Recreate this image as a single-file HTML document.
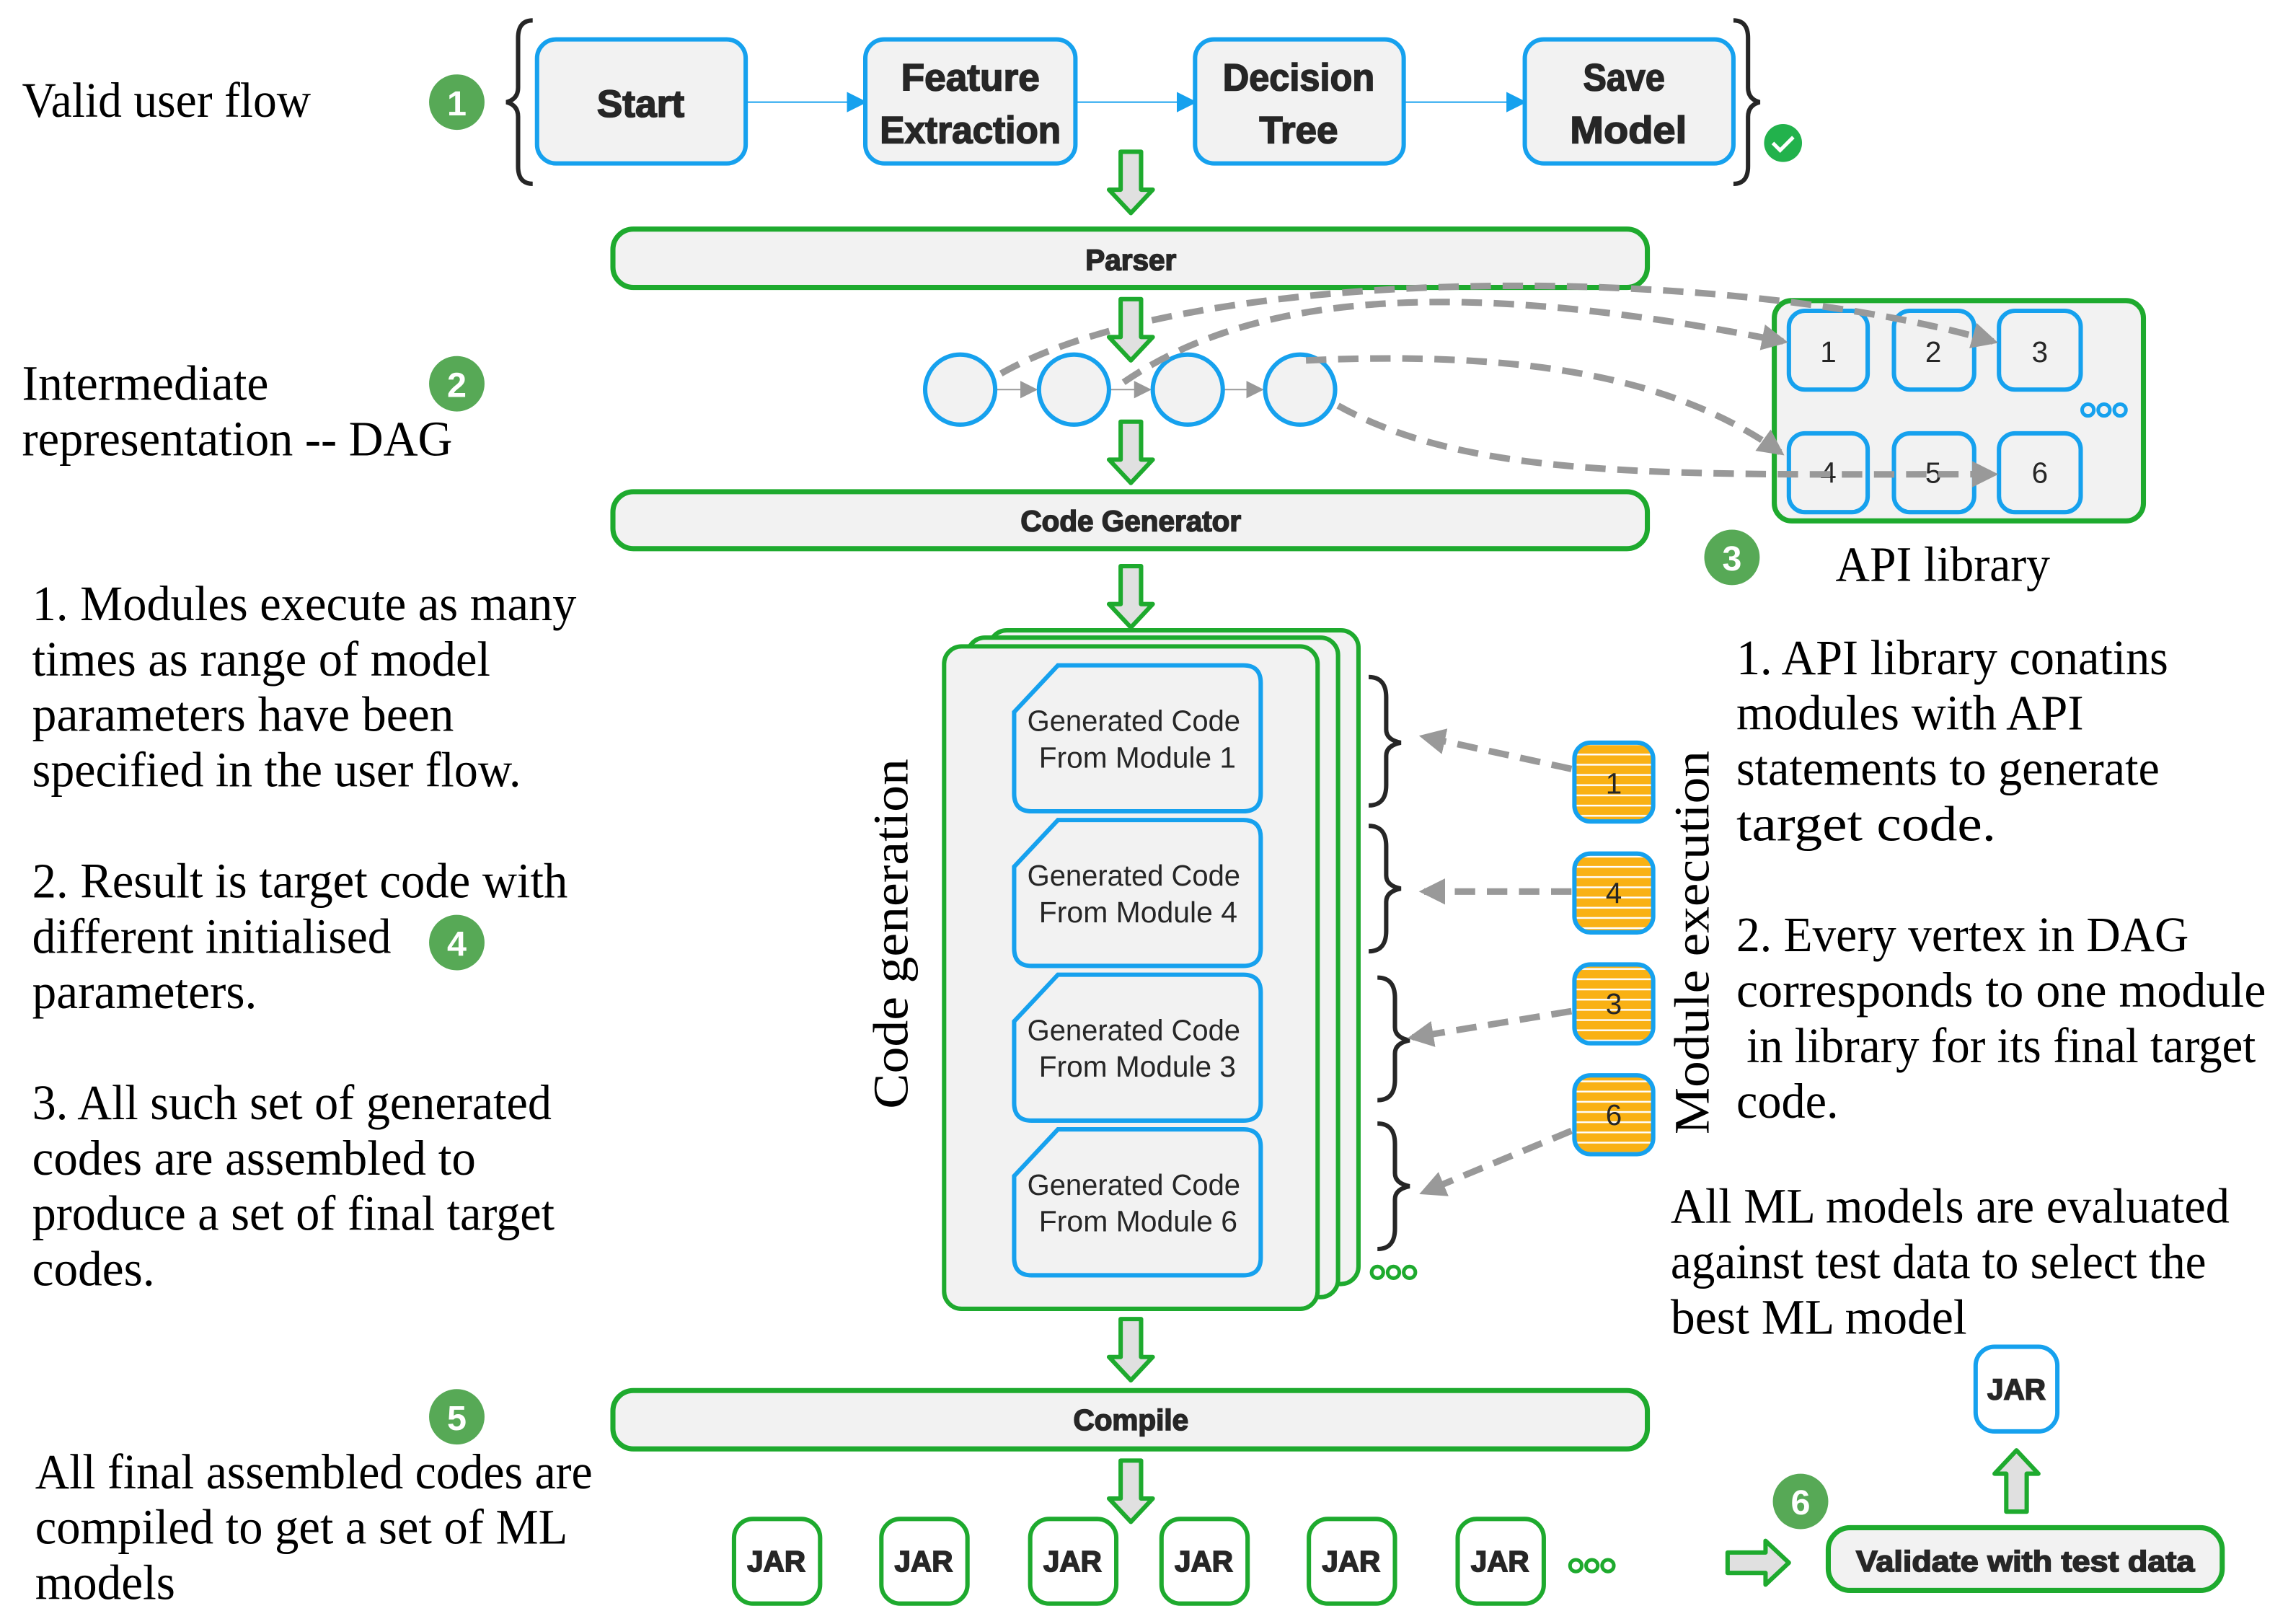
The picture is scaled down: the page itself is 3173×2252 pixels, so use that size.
<!DOCTYPE html>
<html><head><meta charset="utf-8"><style>
html,body{margin:0;padding:0;background:#fff;}
svg{display:block}
.s{font-family:"Liberation Serif",serif;fill:#000;font-size:34px}
.b{font-family:"Liberation Sans",sans-serif;font-weight:bold;fill:#262626;stroke:#262626;stroke-width:0.8}
.n{font-family:"Liberation Sans",sans-serif;fill:#262626}
.box{fill:#f2f2f2;stroke:#16a1ee;stroke-width:3}
.gbar{fill:#f2f2f2;stroke:#1eaa2e;stroke-width:3.5}
.arr{fill:#e0e0e0;stroke:#1eaa2e;stroke-width:3;stroke-linejoin:round}
.dash{fill:none;stroke:#999;stroke-width:4.5;stroke-dasharray:14 8}
.br{fill:none;stroke:#262626;stroke-width:3}
.badge{fill:#57a956}
.bt{font-family:"Liberation Sans",sans-serif;font-weight:bold;fill:#fff;font-size:24px}
</style></head><body>
<svg width="3173" height="2252" viewBox="0 0 1568 1113" xmlns="http://www.w3.org/2000/svg">
<defs>
<marker id="ga" viewBox="0 0 10 10" refX="8" refY="5" markerWidth="4" markerHeight="4" orient="auto" markerUnits="strokeWidth"><path d="M0,0 L10,5 L0,10 Z" fill="#999"/></marker>
<marker id="ba" viewBox="0 0 10 10" refX="9" refY="5" markerWidth="14" markerHeight="14" orient="auto" markerUnits="userSpaceOnUse"><path d="M0,0 L10,5 L0,10 Z" fill="#16a1ee"/></marker>
<marker id="sa" viewBox="0 0 10 10" refX="9" refY="5" markerWidth="12" markerHeight="12" orient="auto" markerUnits="userSpaceOnUse"><path d="M0,0 L10,5 L0,10 Z" fill="#999"/></marker>
<pattern id="stripe" width="10" height="7" patternUnits="userSpaceOnUse"><rect width="10" height="7" fill="#f9b114"/><rect y="5.5" width="10" height="1.2" fill="#fff"/></pattern>
</defs>

<text class="s" x="15" y="80" textLength="198" lengthAdjust="spacingAndGlyphs">Valid user flow</text>
<circle class="badge" cx="313" cy="70" r="19"/><text class="bt" x="313" y="79" text-anchor="middle">1</text>
<path class="br" d="M365,14 q-10,0 -10,12 v34 q0,8 -8,10 q8,2 8,10 v34 q0,12 10,12"/>
<path class="br" d="M1188,14 q10,0 10,12 v34 q0,8 8,10 q-8,2 -8,10 v34 q0,12 -10,12"/>
<rect class="box" x="368" y="27" width="143" height="85" rx="13"/>
<rect class="box" x="593" y="27" width="144" height="85" rx="13"/>
<rect class="box" x="819" y="27" width="143" height="85" rx="13"/>
<rect class="box" x="1045" y="27" width="143" height="85" rx="13"/>
<text class="b" x="439" y="80" font-size="26" text-anchor="middle" textLength="60" lengthAdjust="spacingAndGlyphs">Start</text>
<text class="b" x="665" y="62" font-size="26" text-anchor="middle" textLength="95" lengthAdjust="spacingAndGlyphs">Feature</text>
<text class="b" x="665" y="98" font-size="26" text-anchor="middle" textLength="124" lengthAdjust="spacingAndGlyphs">Extraction</text>
<text class="b" x="890" y="62" font-size="26" text-anchor="middle" textLength="104" lengthAdjust="spacingAndGlyphs">Decision</text>
<text class="b" x="890" y="98" font-size="26" text-anchor="middle" textLength="54" lengthAdjust="spacingAndGlyphs">Tree</text>
<text class="b" x="1113" y="62" font-size="26" text-anchor="middle" textLength="56" lengthAdjust="spacingAndGlyphs">Save</text>
<text class="b" x="1116" y="98" font-size="26" text-anchor="middle" textLength="80" lengthAdjust="spacingAndGlyphs">Model</text>
<line x1="511" y1="70" x2="593" y2="70" stroke="#16a1ee" stroke-width="1" marker-end="url(#ba)"/>
<line x1="737" y1="70" x2="819" y2="70" stroke="#16a1ee" stroke-width="1" marker-end="url(#ba)"/>
<line x1="962" y1="70" x2="1045" y2="70" stroke="#16a1ee" stroke-width="1" marker-end="url(#ba)"/>
<circle cx="1222" cy="98" r="13" fill="#22b24c"/>
<path d="M1215,98 l5,5 l9,-9" fill="none" stroke="#fff" stroke-width="2.5"/>

<path class="arr" d="M768,104 h14 v26 h8 l-15,16 l-15,-16 h8 z"/>
<rect class="gbar" x="420" y="157" width="709" height="40" rx="14"/>
<text class="b" x="775" y="185" font-size="20" text-anchor="middle">Parser</text>

<text class="s" x="15" y="274" textLength="169" lengthAdjust="spacingAndGlyphs">Intermediate</text>
<text class="s" x="15" y="312" textLength="295" lengthAdjust="spacingAndGlyphs">representation -- DAG</text>
<circle class="badge" cx="313" cy="263" r="19"/><text class="bt" x="313" y="272" text-anchor="middle">2</text>

<line x1="682" y1="267" x2="710" y2="267" stroke="#999" stroke-width="1" marker-end="url(#sa)"/>
<line x1="760" y1="267" x2="788" y2="267" stroke="#999" stroke-width="1" marker-end="url(#sa)"/>
<line x1="838" y1="267" x2="865" y2="267" stroke="#999" stroke-width="1" marker-end="url(#sa)"/>
<circle class="box" cx="658" cy="267" r="24"/>
<circle class="box" cx="736" cy="267" r="24"/>
<circle class="box" cx="814" cy="267" r="24"/>
<circle class="box" cx="891" cy="267" r="24"/>

<rect class="gbar" x="1216" y="206" width="253" height="151" rx="12"/>
<rect class="box" x="1226" y="213" width="54" height="54" rx="11"/>
<rect class="box" x="1298" y="213" width="55" height="54" rx="11"/>
<rect class="box" x="1370" y="213" width="56" height="54" rx="11"/>
<rect class="box" x="1226" y="297" width="54" height="54" rx="11"/>
<rect class="box" x="1298" y="297" width="55" height="54" rx="11"/>
<rect class="box" x="1370" y="297" width="56" height="54" rx="11"/>
<g class="n" font-size="20" text-anchor="middle">
<text x="1253" y="248">1</text><text x="1325" y="248">2</text><text x="1398" y="248">3</text>
<text x="1253" y="331">4</text><text x="1325" y="331">5</text><text x="1398" y="331">6</text>
</g>
<g fill="none" stroke="#16a1ee" stroke-width="2.5"><circle cx="1431" cy="281" r="4"/><circle cx="1442" cy="281" r="4"/><circle cx="1453" cy="281" r="4"/></g>

<path class="dash" d="M686,256 C820,180 1180,180 1366,234" marker-end="url(#ga)"/>
<path class="dash" d="M770,262 C860,200 1000,190 1222,234" marker-end="url(#ga)"/>
<path class="dash" d="M895,247 C1050,240 1150,260 1220,310" marker-end="url(#ga)"/>
<path class="dash" d="M917,278 C1010,330 1150,325 1366,325" marker-end="url(#ga)"/>

<path class="arr" d="M768,205 h14 v26 h8 l-15,16 l-15,-16 h8 z"/>
<path class="arr" d="M768,289 h14 v26 h8 l-15,16 l-15,-16 h8 z"/>
<rect class="gbar" x="420" y="337" width="709" height="39" rx="14"/>
<text class="b" x="775" y="364" font-size="20" text-anchor="middle">Code Generator</text>

<circle class="badge" cx="1187" cy="382" r="19"/><text class="bt" x="1187" y="391" text-anchor="middle">3</text>
<text class="s" x="1258" y="398" textLength="147" lengthAdjust="spacingAndGlyphs">API library</text>

<path class="arr" d="M768,388 h14 v26 h8 l-15,16 l-15,-16 h8 z"/>

<rect x="678" y="432" width="253" height="448" rx="12" fill="#f2f2f2" stroke="#1eaa2e" stroke-width="3"/>
<rect x="663" y="437" width="254" height="452" rx="12" fill="#f2f2f2" stroke="#1eaa2e" stroke-width="3"/>
<rect x="647" y="443" width="256" height="454" rx="12" fill="#f2f2f2" stroke="#1eaa2e" stroke-width="3"/>

<g class="box">
<path d="M695,488 L725,456 H852 Q864,456 864,468 V544 Q864,556 852,556 H707 Q695,556 695,544 Z"/>
<path d="M695,594 L725,562 H852 Q864,562 864,574 V650 Q864,662 852,662 H707 Q695,662 695,650 Z"/>
<path d="M695,700 L725,668 H852 Q864,668 864,680 V756 Q864,768 852,768 H707 Q695,768 695,756 Z"/>
<path d="M695,806 L725,774 H852 Q864,774 864,786 V862 Q864,874 852,874 H707 Q695,874 695,862 Z"/>
</g>
<g class="n" font-size="20">
<text x="704" y="501" textLength="146" lengthAdjust="spacingAndGlyphs">Generated Code</text>
<text x="712" y="526" textLength="135" lengthAdjust="spacingAndGlyphs">From Module 1</text>
<text x="704" y="607" textLength="146" lengthAdjust="spacingAndGlyphs">Generated Code</text>
<text x="712" y="632" textLength="136" lengthAdjust="spacingAndGlyphs">From Module 4</text>
<text x="704" y="713" textLength="146" lengthAdjust="spacingAndGlyphs">Generated Code</text>
<text x="712" y="738" textLength="135" lengthAdjust="spacingAndGlyphs">From Module 3</text>
<text x="704" y="819" textLength="146" lengthAdjust="spacingAndGlyphs">Generated Code</text>
<text x="712" y="844" textLength="136" lengthAdjust="spacingAndGlyphs">From Module 6</text>
</g>
<g fill="none" stroke="#1eaa2e" stroke-width="2.5"><circle cx="944" cy="872" r="4"/><circle cx="955" cy="872" r="4"/><circle cx="966" cy="872" r="4"/></g>

<text class="s" font-size="38" transform="translate(622,640) rotate(-90)" text-anchor="middle" textLength="240" lengthAdjust="spacingAndGlyphs">Code generation</text>
<text class="s" font-size="38" transform="translate(1171,646) rotate(-90)" text-anchor="middle" textLength="263" lengthAdjust="spacingAndGlyphs">Module execution</text>

<path class="br" d="M938,464 q12,0 12,14 v22 q0,7 10,9 q-10,2 -10,9 v20 q0,14 -12,14"/>
<path class="br" d="M938,566 q12,0 12,14 v20 q0,7 10,9 q-10,2 -10,9 v20 q0,14 -12,14"/>
<path class="br" d="M944,670 q12,0 12,14 v20 q0,7 10,9 q-10,2 -10,9 v18 q0,14 -12,14"/>
<path class="br" d="M944,770 q12,0 12,14 v20 q0,7 10,9 q-10,2 -10,9 v20 q0,14 -12,14"/>

<g stroke="#16a1ee" stroke-width="3" fill="url(#stripe)">
<rect x="1079" y="509" width="54" height="54" rx="11"/>
<rect x="1079" y="585" width="54" height="54" rx="11"/>
<rect x="1079" y="661" width="54" height="54" rx="11"/>
<rect x="1079" y="737" width="54" height="54" rx="11"/>
</g>
<g class="n" font-size="20" text-anchor="middle">
<text x="1106" y="544">1</text><text x="1106" y="619">4</text><text x="1106" y="695">3</text><text x="1106" y="771">6</text>
</g>
<path class="dash" d="M1077,527 L976,505" marker-end="url(#ga)"/>
<path class="dash" d="M1077,611 L976,611" marker-end="url(#ga)"/>
<path class="dash" d="M1077,693 L968,711" marker-end="url(#ga)"/>
<path class="dash" d="M1077,775 L976,817" marker-end="url(#ga)"/>

<text class="s" x="22" y="425" textLength="373" lengthAdjust="spacingAndGlyphs">1. Modules execute as many</text>
<text class="s" x="22" y="463" textLength="314" lengthAdjust="spacingAndGlyphs">times as range of model</text>
<text class="s" x="22" y="501" textLength="289" lengthAdjust="spacingAndGlyphs">parameters have been</text>
<text class="s" x="22" y="539" textLength="335" lengthAdjust="spacingAndGlyphs">specified in the user flow.</text>
<text class="s" x="22" y="615" textLength="367" lengthAdjust="spacingAndGlyphs">2. Result is  target code with</text>
<text class="s" x="22" y="653" textLength="246" lengthAdjust="spacingAndGlyphs">different initialised</text>
<text class="s" x="22" y="691" textLength="154" lengthAdjust="spacingAndGlyphs">parameters.</text>
<circle class="badge" cx="313" cy="646" r="19"/><text class="bt" x="313" y="655" text-anchor="middle">4</text>
<text class="s" x="22" y="767" textLength="356" lengthAdjust="spacingAndGlyphs">3. All such set of generated</text>
<text class="s" x="22" y="805" textLength="304" lengthAdjust="spacingAndGlyphs">codes are assembled to</text>
<text class="s" x="22" y="843" textLength="358" lengthAdjust="spacingAndGlyphs">produce a set of final target</text>
<text class="s" x="22" y="881" textLength="84" lengthAdjust="spacingAndGlyphs">codes.</text>

<text class="s" x="1190" y="462" textLength="296" lengthAdjust="spacingAndGlyphs">1. API library conatins</text>
<text class="s" x="1190" y="500" textLength="238" lengthAdjust="spacingAndGlyphs">modules with API</text>
<text class="s" x="1190" y="538" textLength="290" lengthAdjust="spacingAndGlyphs">statements to generate</text>
<text class="s" x="1190" y="576" textLength="178" lengthAdjust="spacingAndGlyphs">target code.</text>
<text class="s" x="1190" y="652" textLength="310" lengthAdjust="spacingAndGlyphs">2. Every vertex in DAG</text>
<text class="s" x="1190" y="690" textLength="363" lengthAdjust="spacingAndGlyphs">corresponds to one module</text>
<text class="s" x="1197" y="728" textLength="349" lengthAdjust="spacingAndGlyphs">in library for its final target</text>
<text class="s" x="1190" y="766" textLength="70" lengthAdjust="spacingAndGlyphs">code.</text>
<text class="s" x="1145" y="838" textLength="383" lengthAdjust="spacingAndGlyphs">All ML models are evaluated</text>
<text class="s" x="1145" y="876" textLength="367" lengthAdjust="spacingAndGlyphs">against test data to select the</text>
<text class="s" x="1145" y="914" textLength="203" lengthAdjust="spacingAndGlyphs">best ML model</text>

<path class="arr" d="M768,904 h14 v26 h8 l-15,16 l-15,-16 h8 z"/>
<rect class="gbar" x="420" y="953" width="709" height="40" rx="14"/>
<text class="b" x="775" y="980" font-size="20" text-anchor="middle">Compile</text>
<path class="arr" d="M768,1001 h14 v26 h8 l-15,16 l-15,-16 h8 z"/>

<circle class="badge" cx="313" cy="971" r="19"/><text class="bt" x="313" y="980" text-anchor="middle">5</text>
<text class="s" x="24" y="1020" textLength="382" lengthAdjust="spacingAndGlyphs">All final assembled codes are</text>
<text class="s" x="24" y="1058" textLength="365" lengthAdjust="spacingAndGlyphs">compiled to get a set of ML</text>
<text class="s" x="24" y="1096" textLength="96" lengthAdjust="spacingAndGlyphs">models</text>

<g fill="#fff" stroke="#1eaa2e" stroke-width="3">
<rect x="503" y="1041" width="59" height="58" rx="13"/>
<rect x="604" y="1041" width="59" height="58" rx="13"/>
<rect x="706" y="1041" width="59" height="58" rx="13"/>
<rect x="796" y="1041" width="59" height="58" rx="13"/>
<rect x="897" y="1041" width="59" height="58" rx="13"/>
<rect x="999" y="1041" width="59" height="58" rx="13"/>
</g>
<g class="b" font-size="20" text-anchor="middle">
<text x="532" y="1077">JAR</text><text x="633" y="1077">JAR</text><text x="735" y="1077">JAR</text>
<text x="825" y="1077">JAR</text><text x="926" y="1077">JAR</text><text x="1028" y="1077">JAR</text>
</g>
<g fill="none" stroke="#1eaa2e" stroke-width="2.5"><circle cx="1080" cy="1073" r="4"/><circle cx="1091" cy="1073" r="4"/><circle cx="1102" cy="1073" r="4"/></g>

<path class="arr" d="M1184,1064 h26 v-8 l16,15 l-16,15 v-8 h-26 z"/>
<circle class="badge" cx="1234" cy="1029" r="19"/><text class="bt" x="1234" y="1038" text-anchor="middle">6</text>
<rect class="gbar" x="1253" y="1047" width="270" height="43" rx="15"/>
<text class="b" x="1388" y="1077" font-size="20" text-anchor="middle" textLength="232" lengthAdjust="spacingAndGlyphs">Validate with test data</text>
<path class="arr" d="M1375,1036 v-26 h-8 l15,-16 l15,16 h-8 v26 z"/>
<rect x="1354" y="923" width="56" height="58" rx="13" fill="#fff" stroke="#16a1ee" stroke-width="3"/>
<text class="b" x="1382" y="959" font-size="20" text-anchor="middle">JAR</text>
</svg>
</body></html>
